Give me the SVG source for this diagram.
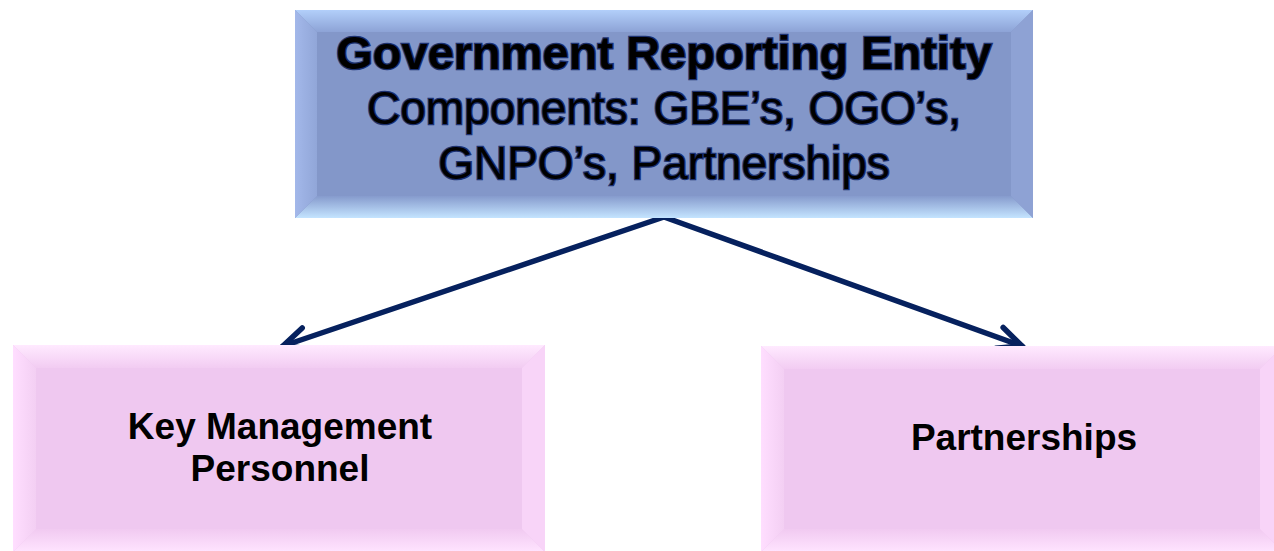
<svg xmlns="http://www.w3.org/2000/svg" width="1274" height="551" viewBox="0 0 1274 551">
  <style>
    .title { font-family: "Liberation Sans", Arial, sans-serif; font-size: 47px; font-weight: bold; fill: #000; stroke: #1c3170; stroke-width: 2.5; paint-order: stroke; text-anchor: middle; }
    .sub { font-family: "Liberation Sans", Arial, sans-serif; font-size: 46px; fill: #000; stroke: #1c3170; stroke-width: 2.5; paint-order: stroke; text-anchor: middle; }
    .label { font-family: "Liberation Sans", Arial, sans-serif; font-size: 37px; font-weight: bold; fill: #000; text-anchor: middle; }
    .conn { fill: none; stroke: #06215e; stroke-width: 5.5; stroke-linecap: round; }
  </style>
  <defs>
    <linearGradient id="blueTop" x1="0" y1="0" x2="0" y2="1">
      <stop offset="0" stop-color="#b2cffa"/>
      <stop offset="1" stop-color="#8da3d6"/>
    </linearGradient>
    <linearGradient id="blueBottom" x1="0" y1="0" x2="0" y2="1">
      <stop offset="0" stop-color="#869bcd"/>
      <stop offset="1" stop-color="#c4e4ff"/>
    </linearGradient>
    <linearGradient id="blueLeft" x1="0" y1="0" x2="1" y2="0">
      <stop offset="0" stop-color="#a3b8ea"/>
      <stop offset="1" stop-color="#91a6d8"/>
    </linearGradient>
    <linearGradient id="pinkTop" x1="0" y1="0" x2="0" y2="1">
      <stop offset="0" stop-color="#ffeaff"/>
      <stop offset="1" stop-color="#f2ccf2"/>
    </linearGradient>
    <linearGradient id="pinkBottom" x1="0" y1="0" x2="0" y2="1">
      <stop offset="0" stop-color="#f1caf1"/>
      <stop offset="1" stop-color="#ffe4ff"/>
    </linearGradient>
    <linearGradient id="pinkLeft" x1="0" y1="0" x2="1" y2="0">
      <stop offset="0" stop-color="#ffdeff"/>
      <stop offset="1" stop-color="#f3cff3"/>
    </linearGradient>
    <marker id="chevron" markerUnits="userSpaceOnUse" markerWidth="60" markerHeight="60" refX="0" refY="0" viewBox="-40 -30 60 60" orient="auto">
      <path d="M -24,-11 L 0,0 L -24,11" fill="none" stroke="#06215e" stroke-width="5.5" stroke-linecap="round" stroke-linejoin="miter"/>
    </marker>
  </defs>

  <!-- connectors -->
  <g id="connectors">
    <path class="conn" d="M 664,217 L 283,346" marker-end="url(#chevron)"/>
    <path class="conn" d="M 664,217 L 1022,346" marker-end="url(#chevron)"/>
  </g>

  <!-- top node: bevelled blue block -->
  <g id="node-reporting-entity">
    <rect x="295" y="10" width="738" height="208" fill="#8397c9"/>
    <polygon points="295,10 1033,10 1011,32 317,32" fill="url(#blueTop)"/>
    <polygon points="295,218 1033,218 1011,196 317,196" fill="url(#blueBottom)"/>
    <polygon points="295,10 317,32 317,196 295,218" fill="url(#blueLeft)"/>
    <polygon points="1033,10 1011,32 1011,196 1033,218" fill="#8ea2d4"/>
    <text class="title" x="664" y="69">Government Reporting Entity</text>
    <text class="sub" x="664" y="124">Components: GBE’s, OGO’s,</text>
    <text class="sub" x="664" y="179">GNPO’s, Partnerships</text>
  </g>

  <!-- left node: bevelled pink block -->
  <g id="node-key-management">
    <rect x="13" y="345" width="532" height="207" fill="#efc8f0"/>
    <polygon points="13,345 545,345 522,368 36,368" fill="url(#pinkTop)"/>
    <polygon points="13,552 545,552 522,529 36,529" fill="url(#pinkBottom)"/>
    <polygon points="13,345 36,368 36,529 13,552" fill="url(#pinkLeft)"/>
    <polygon points="545,345 522,368 522,529 545,552" fill="#f8d4f8"/>
    <text class="label" x="280" y="439">Key Management</text>
    <text class="label" x="280" y="481">Personnel</text>
  </g>

  <!-- right node: bevelled pink block -->
  <g id="node-partnerships">
    <rect x="761" y="346" width="522" height="206" fill="#efc8f0"/>
    <polygon points="761,346 1283,346 1260,369 784,369" fill="url(#pinkTop)"/>
    <polygon points="761,552 1283,552 1260,529 784,529" fill="url(#pinkBottom)"/>
    <polygon points="761,346 784,369 784,529 761,552" fill="url(#pinkLeft)"/>
    <polygon points="1283,346 1260,369 1260,529 1283,552" fill="#f8d4f8"/>
    <text class="label" x="1024" y="450">Partnerships</text>
  </g>
</svg>
